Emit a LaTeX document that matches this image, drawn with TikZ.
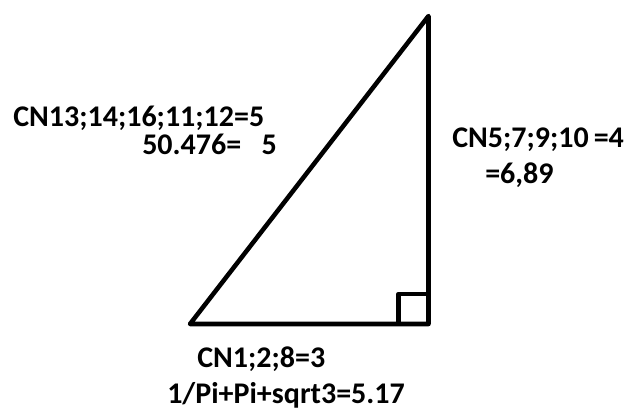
\documentclass[tikz,border=0pt]{standalone}
\usepackage{fontspec}
\setmainfont{Carlito}
\begin{document}
\begin{tikzpicture}[x=0.75pt,y=-0.75pt,
  lbl/.style={anchor=base west,inner sep=0pt,font=\bfseries\fontsize{22.5}{26}\selectfont},
  edge/.style={line width=3.4pt,line join=round}]
\useasboundingbox (0,0) rectangle (625,410);
\coordinate (A) at (190,324);
\coordinate (B) at (428.5,324);
\coordinate (C) at (428.5,16);
\draw[edge] (A) -- (B) -- (C) -- cycle;
\coordinate (S1) at (398.5,324);
\coordinate (S2) at (398.5,294);
\coordinate (S3) at (428.5,294);
\draw[edge] (S1) -- (S2) -- (S3);
\node[lbl] (h1) at (13,127) {CN13;14;16;11;12=5};
\node[lbl] (h2) at (142,154) {50.476=\ \ \ 5};
\node[lbl] (v1) at (452,147) {CN5;7;9;10\,=4};
\node[lbl] (v2) at (485,183) {=6,89};
\node[lbl] (b1) at (197,367) {CN1;2;8=3};
\node[lbl] (b2) at (167,403) {1/Pi+Pi+sqrt3=5.17};
\end{tikzpicture}
\end{document}
